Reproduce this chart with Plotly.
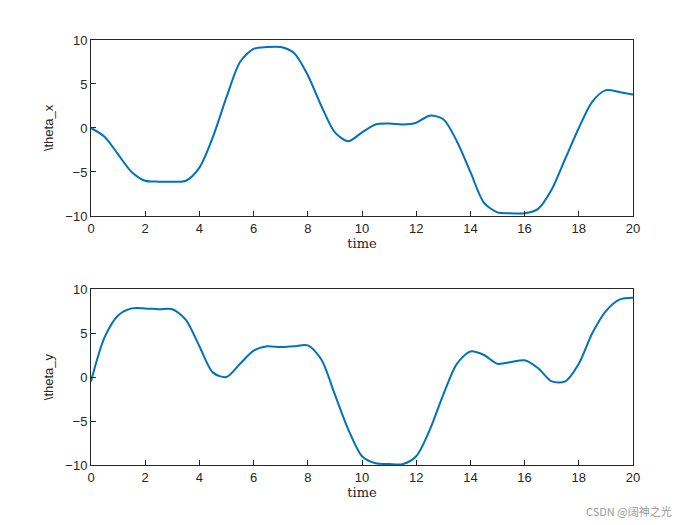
import plotly.graph_objects as go

t = [i*0.5 for i in range(41)]
theta_x = [0, -1, -3, -5, -6, -6.1, -6.1, -6, -4.5, -1, 3.5, 7.5, 9, 9.2, 9.2, 8.5, 6, 2.5, -0.5, -1.5,
           -0.5, 0.4, 0.5, 0.4, 0.6, 1.4, 1, -1.5, -5, -8.5, -9.6, -9.7, -9.7, -9.2, -7, -3.5, 0, 3, 4.3, 4.1, 3.8]
theta_y = [-0.5, 4.5, 7, 7.8, 7.8, 7.7, 7.7, 6.5, 3.5, 0.5, 0, 1.5, 3, 3.5, 3.4, 3.5, 3.6, 2, -2, -6,
           -9, -9.8, -9.9, -9.9, -9, -6, -2, 1.5, 2.9, 2.5, 1.5, 1.7, 1.9, 1, -0.5, -0.5, 1.5, 5, 7.5, 8.8, 9]
ticks_x = list(range(0, 21, 2))
ticks_y = [-10, -5, 0, 5, 10]

fig = go.Figure()
line = dict(color="#0072BD", width=2, shape="spline", smoothing=0.8)
fig.add_trace(go.Scatter(x=t, y=theta_x, mode="lines", line=line, xaxis="x", yaxis="y", showlegend=False))
fig.add_trace(go.Scatter(x=t, y=theta_y, mode="lines", line=line, xaxis="x2", yaxis="y2", showlegend=False))

sans = dict(family="Liberation Sans", size=13, color="#262626")
ax = dict(range=[0, 20], tickvals=ticks_x, showgrid=False, zeroline=False, showline=True, mirror=True,
          linecolor="#262626", linewidth=1, ticks="inside", ticklen=5, tickcolor="#262626", tickfont=sans)
ay = dict(range=[-10, 10], tickvals=ticks_y, showgrid=False, zeroline=False, showline=True, mirror=True,
          linecolor="#262626", linewidth=1, ticks="inside", ticklen=5, tickcolor="#262626", tickfont=sans)
tfont = dict(family="DejaVu Serif", size=13, color="#262626")

fig.update_layout(
    width=700, height=525, paper_bgcolor="white", plot_bgcolor="white",
    margin=dict(l=83, r=75, t=32, b=68),
    xaxis=dict(ax, domain=[0, 1], anchor="y", title=dict(text="time", font=tfont, standoff=4)),
    yaxis=dict(ay, domain=[0.586, 1], anchor="x", title=dict(text="\\theta_x", font=sans, standoff=8)),
    xaxis2=dict(ax, domain=[0, 1], anchor="y2", title=dict(text="time", font=tfont, standoff=4)),
    yaxis2=dict(ay, domain=[0, 0.414], anchor="x2", title=dict(text="\\theta_y", font=sans, standoff=8)),
    annotations=[dict(text="CSDN @阔神之光", xref="paper", yref="paper", x=1.075, y=-0.085,
                      xanchor="right", yanchor="top", showarrow=False,
                      font=dict(family="Noto Sans CJK SC", size=11, color="#999999"))],
)
fig.write_html("out.html")
